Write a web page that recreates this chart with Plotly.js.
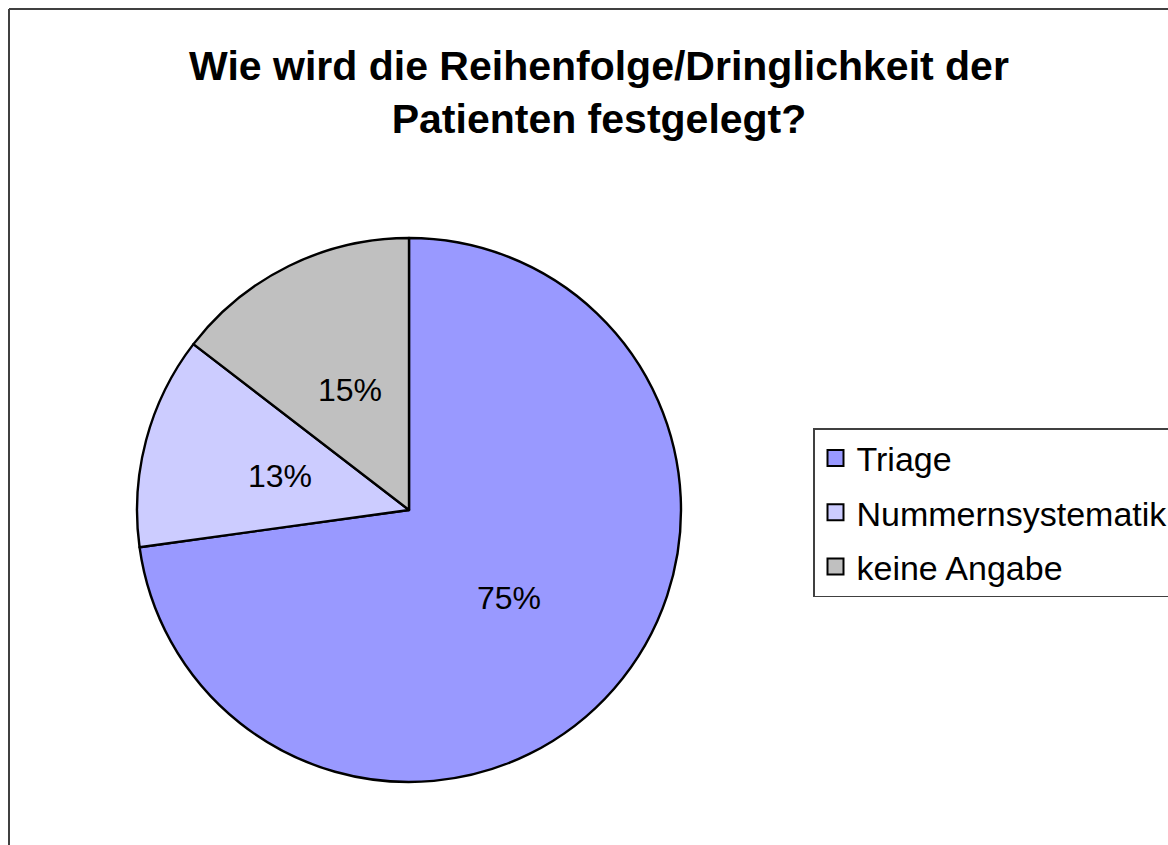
<!DOCTYPE html>
<html>
<head>
<meta charset="utf-8">
<script src="https://cdn.plot.ly/plotly-3.0.1.min.js"></script>
<style>html,body{margin:0;padding:0;background:#fff;}#chart{width:1168px;height:845px;}</style>
</head>
<body>
<div id="chart"></div>
<script>
const categories = ["Triage", "Nummernsystematik", "keine Angabe"];
const percentages = [75, 13, 15];
const sliceColors = ["#9999FF", "#CCCCFF", "#C0C0C0"];
const chartTitle = "Wie wird die Reihenfolge/Dringlichkeit der<br>Patienten festgelegt?";

const W = 1168, H = 845;
const cx = 409, cy = 510, R = 272;
const FONT = "Liberation Sans, Arial, sans-serif";

const pieTrace = {
  type: "pie",
  labels: categories,
  values: percentages,
  sort: false,
  direction: "clockwise",
  rotation: 0,
  marker: {colors: sliceColors, line: {color: "#000000", width: 2.4}},
  textinfo: "none",
  hoverinfo: "label+value",
  showlegend: false,
  domain: {x: [(cx - R) / W, (cx + R) / W], y: [1 - (cy + R) / H, 1 - (cy - R) / H]}
};

// legend entries (no data points) so the legend rows can be spaced like the original
const legendTraces = categories.map((c, i) => ({
  type: "scatter", mode: "markers", x: [null], y: [null],
  name: c, legendgroup: "g" + i, showlegend: true,
  marker: {symbol: "square", size: 16, color: sliceColors[i], line: {color: "#000", width: 2}},
  hoverinfo: "skip"
}));

// percentage labels placed along each slice's bisector, from the data
const total = percentages.reduce((a, b) => a + b, 0);
let cum = 0;
const labelAnnotations = percentages.map((v) => {
  const mid = (cum + v / 2) / total * 2 * Math.PI;
  cum += v;
  const r = 0.49 * R;
  return {
    xref: "paper", yref: "paper",
    x: (cx + r * Math.sin(mid)) / W,
    y: 1 - (cy - r * Math.cos(mid)) / H,
    text: v + "%", showarrow: false,
    xanchor: "center", yanchor: "middle",
    font: {family: FONT, size: 32, color: "#000"}
  };
});

const layout = {
  width: W, height: H,
  margin: {l: 0, r: 0, t: 0, b: 0, autoexpand: false},
  paper_bgcolor: "#ffffff",
  plot_bgcolor: "rgba(0,0,0,0)",
  font: {family: FONT, color: "#000"},
  xaxis: {visible: false},
  yaxis: {visible: false},
  title: {
    text: chartTitle,
    font: {family: FONT, size: 41, color: "#000", weight: "bold"},
    x: 599 / W, xanchor: "center", xref: "container",
    y: 1 - 80 / H, yanchor: "top", yref: "container"
  },
  showlegend: true,
  legend: {
    x: 813 / W, xanchor: "left", y: 1 - 428 / H, yanchor: "top",
    bordercolor: "#404040", borderwidth: 1.5, bgcolor: "#ffffff",
    font: {family: FONT, size: 34, color: "#000"},
    traceorder: "grouped", tracegroupgap: 7,
    itemwidth: 32
  },
  annotations: labelAnnotations,
  shapes: [
    {type: "line", xref: "paper", yref: "paper", x0: 9 / W, x1: 9 / W, y0: 0, y1: 1 - 9 / H,
     line: {color: "#404040", width: 2}},
    {type: "line", xref: "paper", yref: "paper", x0: 9 / W, x1: 1, y0: 1 - 9 / H, y1: 1 - 9 / H,
     line: {color: "#404040", width: 2}}
  ]
};

Plotly.newPlot("chart", [pieTrace].concat(legendTraces), layout, {displayModeBar: false, staticPlot: true});
</script>
</body>
</html>
